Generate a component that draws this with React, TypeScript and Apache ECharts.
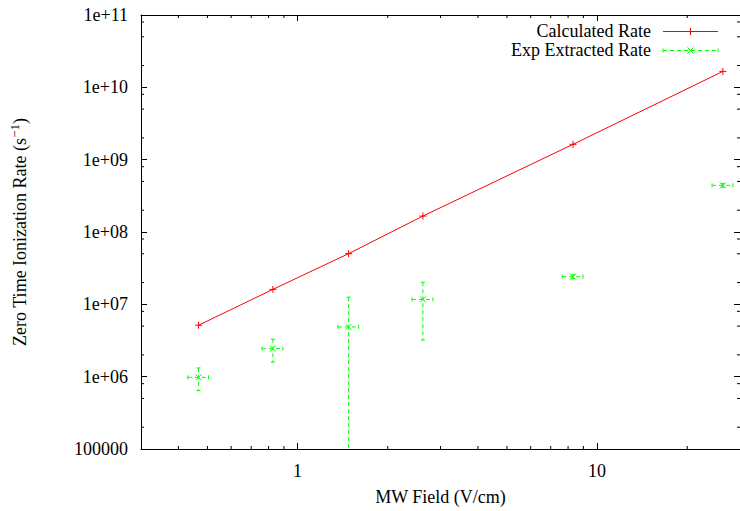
import React, { useEffect, useRef } from "react";
import * as echarts from "echarts";

// ---- data ----
const fieldValues = [0.467, 0.827, 1.48, 2.62, 8.31, 26.3]; // MW field (V/cm)
const calcRate = [5.14e6, 1.61e7, 5.02e7, 1.66e8, 1.63e9, 1.66e10];
const expRate = [9.8e5, 2.44e6, 4.87e6, 1.17e7, 2.41e7, 4.42e8];
const expRateErr = [3.4e5, 8.5e5, 7.7e6, 8.5e6, 1.5e6, 2.5e7];
const fieldErr = [0.037, 0.066, 0.118, 0.21, 0.66, 2.1];

const xMin = 0.3;
const xMax = 30;
const yMin = 1e5;
const yMax = 1e11;
const xTickLabels = ["1", "10"]; // at 10^0, 10^1
const yTickLabels = ["100000", "1e+06", "1e+07", "1e+08", "1e+09", "1e+10", "1e+11"]; // 10^5 .. 10^11
const xMinorTicks = [0.4, 0.5, 0.6, 0.7, 0.8, 0.9, 2, 3, 4, 5, 6, 7, 8, 9, 20];
const yMinorTicks = [
  2e5, 5e5, 8e5, 2e6, 5e6, 8e6, 2e7, 5e7, 8e7, 2e8, 5e8, 8e8, 2e9, 5e9, 8e9, 2e10, 5e10, 8e10,
];

const seriesNames = ["Calculated Rate", "Exp Extracted Rate"];
const xAxisTitle = "MW Field (V/cm)";

const FONT = "Liberation Serif";
const RED = "#ff0000";
const GREEN = "#00ff00";

export default function App() {
  const ref = useRef<HTMLDivElement>(null);

  useEffect(() => {
    if (!ref.current) return;
    const chart = echarts.init(ref.current, null, { renderer: "svg" });

    const lbl = { fontFamily: FONT, fontSize: 18, color: "#000" };

    const baseX = {
      type: "log" as const,
      logBase: 10,
      min: xMin,
      max: xMax,
      splitLine: { show: false },
      minorTick: { show: false },
      axisLine: { show: true, lineStyle: { color: "#000", width: 1 } },
      axisTick: { show: true, inside: true, length: 6, lineStyle: { color: "#000" } },
    };
    const baseY = {
      type: "log" as const,
      logBase: 10,
      min: yMin,
      max: yMax,
      splitLine: { show: false },
      minorTick: { show: false },
      axisLine: { show: true, lineStyle: { color: "#000", width: 1 } },
      axisTick: { show: true, inside: true, length: 6, lineStyle: { color: "#000" } },
    };

    const line = (x1: number, y1: number, x2: number, y2: number, color: string, dash?: number[]) => ({
      type: "line",
      shape: { x1, y1, x2, y2 },
      style: { stroke: color, lineWidth: 1, lineDash: dash || null },
    });

    const plus = (cx: number, cy: number, color: string, r = 3.5) => [
      line(cx - r, cy, cx + r, cy, color),
      line(cx, cy - r, cx, cy + r, color),
    ];
    const cross = (cx: number, cy: number, color: string, r = 3) => [
      line(cx - r, cy - r, cx + r, cy + r, color),
      line(cx - r, cy + r, cx + r, cy - r, color),
    ];

    const DASH = [4, 3];

    chart.setOption({
      animation: false,
      textStyle: { fontFamily: FONT },
      grid: { left: 137, top: 15, width: 605, height: 438, containLabel: false },
      xAxis: [
        {
          ...baseX,
          position: "bottom",
          name: xAxisTitle,
          nameLocation: "middle",
          nameGap: 39,
          nameTextStyle: { fontFamily: FONT, fontSize: 18, color: "#000" },
          axisLabel: {
            ...lbl,
            margin: 13,
            showMinLabel: false,
            showMaxLabel: false,
            formatter: (v: number) => {
              const i = Math.round(Math.log10(v));
              return xTickLabels[i] ?? "";
            },
          },
        },
        { ...baseX, position: "top", axisLabel: { show: false } },
      ],
      yAxis: [
        {
          ...baseY,
          position: "left",
          name: "{a|Zero Time Ionization Rate (s}{sup|−1}{a|)}",
          nameLocation: "middle",
          nameGap: 109,
          nameTextStyle: {
            rich: {
              a: { fontFamily: FONT, fontSize: 18, color: "#000", lineHeight: 24 },
              sup: { fontFamily: FONT, fontSize: 13, color: "#000", lineHeight: 13, verticalAlign: "top" },
            },
          },
          axisLabel: {
            ...lbl,
            margin: 13,
            formatter: (v: number) => {
              const i = Math.round(Math.log10(v)) - 5;
              return yTickLabels[i] ?? "";
            },
          },
        },
        { ...baseY, position: "right", axisLabel: { show: false } },
      ],
      graphic: [
        {
          type: "group",
          children: [
            {
              type: "text",
              x: 651,
              y: 31,
              style: {
                text: seriesNames[0],
                font: `18px "${FONT}"`,
                fill: "#000",
                align: "right",
                textAlign: "right",
                verticalAlign: "middle",
                textVerticalAlign: "middle",
              },
            },
            line(663, 31.5, 718, 31.5, RED),
            ...plus(690.5, 31.5, RED),
            {
              type: "text",
              x: 651,
              y: 50,
              style: {
                text: seriesNames[1],
                font: `18px "${FONT}"`,
                fill: "#000",
                align: "right",
                textAlign: "right",
                verticalAlign: "middle",
                textVerticalAlign: "middle",
              },
            },
            line(663, 50.5, 718, 50.5, GREEN, DASH),
            line(663, 48.5, 663, 52.5, GREEN),
            line(718, 48.5, 718, 52.5, GREEN),
            ...cross(690.5, 50.5, GREEN),
          ],
        },
      ],
      series: [
        {
          name: seriesNames[0],
          type: "line",
          data: fieldValues.map((x, i) => [x, calcRate[i]]),
          showSymbol: false,
          symbol: "none",
          lineStyle: { color: RED, width: 1 },
          z: 3,
        },
        {
          name: seriesNames[0] + " markers",
          type: "custom",
          data: fieldValues.map((x, i) => [x, calcRate[i]]),
          renderItem: (params: any, api: any) => {
            const p = api.coord([api.value(0), api.value(1)]);
            return { type: "group", children: plus(p[0], p[1], RED) };
          },
          z: 4,
        },
        {
          name: seriesNames[1],
          type: "custom",
          data: fieldValues.map((x, i) => [x, expRate[i], fieldErr[i], expRateErr[i]]),
          renderItem: (params: any, api: any) => {
            const x = api.value(0);
            const y = api.value(1);
            const dx = api.value(2);
            const dy = api.value(3);
            const cs = params.coordSys;
            const c = api.coord([x, y]);
            const l = api.coord([x - dx, y]);
            const r = api.coord([x + dx, y]);
            const t = api.coord([x, y + dy]);
            const lowClamped = y - dy <= yMin;
            const b = lowClamped ? [c[0], cs.y + cs.height] : api.coord([x, y - dy]);
            const kids: any[] = [
              line(l[0], c[1], r[0], c[1], GREEN, DASH),
              line(l[0], c[1] - 2, l[0], c[1] + 2, GREEN),
              line(r[0], c[1] - 2, r[0], c[1] + 2, GREEN),
              line(c[0], t[1], c[0], b[1], GREEN, DASH),
              line(c[0] - 2, t[1], c[0] + 2, t[1], GREEN),
            ];
            if (!lowClamped) kids.push(line(c[0] - 2, b[1], c[0] + 2, b[1], GREEN));
            kids.push(...cross(c[0], c[1], GREEN));
            return { type: "group", children: kids };
          },
          z: 4,
        },
        {
          name: "x minor ticks",
          type: "custom",
          silent: true,
          data: xMinorTicks.map((v) => [v, yMin]),
          renderItem: (params: any, api: any) => {
            const cs = params.coordSys;
            const p = api.coord([api.value(0), api.value(1)]);
            const bot = cs.y + cs.height;
            return {
              type: "group",
              children: [line(p[0], bot, p[0], bot - 3, "#000"), line(p[0], cs.y, p[0], cs.y + 3, "#000")],
            };
          },
          z: 2,
        },
        {
          name: "y minor ticks",
          type: "custom",
          silent: true,
          data: yMinorTicks.map((v) => [xMin, v]),
          renderItem: (params: any, api: any) => {
            const cs = params.coordSys;
            const p = api.coord([api.value(0), api.value(1)]);
            const right = cs.x + cs.width;
            return {
              type: "group",
              children: [line(cs.x, p[1], cs.x + 3, p[1], "#000"), line(right, p[1], right - 3, p[1], "#000")],
            };
          },
          z: 2,
        },
      ],
    });

    return () => chart.dispose();
  }, []);

  return (
    <div style={{ position: "fixed", left: 0, top: 0, width: 740, height: 511, background: "#fff", overflow: "hidden" }}>
      <div ref={ref} style={{ width: 740, height: 511 }} />
    </div>
  );
}
